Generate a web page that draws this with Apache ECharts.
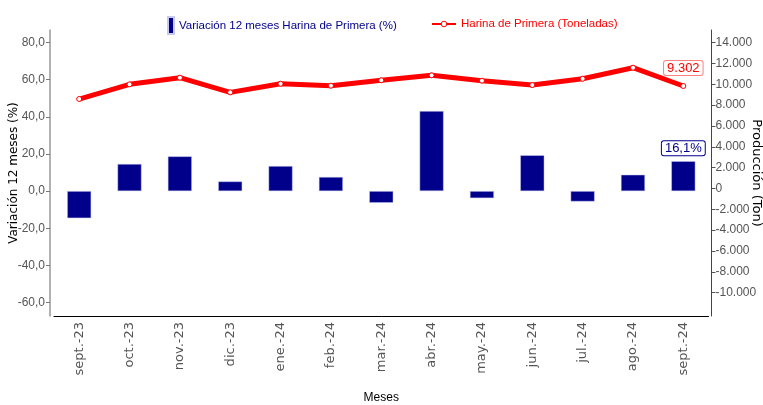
<!DOCTYPE html>
<html>
<head>
<meta charset="utf-8">
<script src="https://cdn.jsdelivr.net/npm/echarts@6/dist/echarts.min.js"></script>
<style>
  html, body { margin: 0; padding: 0; background: #fff; }
  #chart { width: 763px; height: 405px; }
</style>
</head>
<body>
<div id="chart"></div>
<script>
  const months = ['sept.-23', 'oct.-23', 'nov.-23', 'dic.-23', 'ene.-24', 'feb.-24', 'mar.-24',
    'abr.-24', 'may.-24', 'jun.-24', 'jul.-24', 'ago.-24', 'sept.-24'];
  // variacion 12 meses (%)
  const variacion = [-14.6, 14.6, 18.7, 5.2, 13.5, 7.6, -6.3, 43.1, -3.8, 19.3, -5.6, 8.8, 16.1];
  // produccion (toneladas)
  const produccion = [8590, 10000, 10640, 9230, 10060, 9870, 10390, 10870, 10350, 9930, 10540, 11600, 9840];
  const lastTonLabel = 9302;
  const leftTicks = [-60, -40, -20, 0, 20, 40, 60, 80];
  const rightTicks = [-10000, -8000, -6000, -4000, -2000, 0, 2000, 4000, 6000, 8000, 10000, 12000, 14000];

  const narrow = "'Liberation Sans', Arial, sans-serif";
  const navy = '#00008B';
  const red = '#FF0000';

  const fmtPct = v => v.toFixed(1).replace('.', ',');
  const fmtTon = v => {
    const s = Math.abs(v).toString().replace(/\B(?=(\d{3})+(?!\d))/g, '.');
    return (v < 0 ? '-' : '') + s;
  };

  const chart = echarts.init(document.getElementById('chart'));
  chart.setOption({
    animation: false,
    legend: [{
      left: 162,
      top: 11,
      itemWidth: 6,
      itemHeight: 17,
      icon: 'rect',
      data: ['Variación 12 meses Harina de Primera (%)'],
      textStyle: { color: navy, fontFamily: narrow, fontSize: 11.5 }
    }, {
      left: 426,
      top: 13,
      itemWidth: 24,
      itemHeight: 7,
      data: ['Harina de Primera (Toneladas)'],
      lineStyle: { width: 2 },
      itemStyle: { borderWidth: 1 },
      textStyle: { color: red, fontFamily: narrow, fontSize: 11.5 }
    }],
    grid: {
      left: 54,
      right: 54.5,
      top: 30,
      bottom: 89,
      outerBoundsMode: 'none'
    },
    xAxis: {
      type: 'category',
      data: months,
      name: 'Meses',
      nameLocation: 'middle',
      nameGap: 76,
      nameMoveOverlap: false,
      nameTextStyle: { color: '#000', fontFamily: narrow, fontSize: 12 },
      axisLine: { onZero: false, lineStyle: { color: '#000', width: 1 } },
      axisTick: { alignWithLabel: true, length: 4, lineStyle: { color: '#555' } },
      axisLabel: {
        rotate: 90,
        margin: 6,
        color: '#555',
        fontFamily: 'DejaVu Sans',
        fontSize: 13
      }
    },
    yAxis: [{
      type: 'value',
      min: -67.3,
      max: 86.8,
      offset: 4,
      name: 'Variación 12 meses (%)',
      nameLocation: 'middle',
      nameGap: 30,
      nameMoveOverlap: false,
      nameTextStyle: { color: '#000', fontFamily: 'DejaVu Sans', fontSize: 12 },
      splitLine: { show: false },
      axisLine: { show: true, lineStyle: { color: '#999', width: 1.5 } },
      axisTick: { show: true, length: 4, customValues: leftTicks, lineStyle: { color: '#777' } },
      axisLabel: {
        customValues: leftTicks,
        formatter: v => fmtPct(v),
        margin: 5,
        color: '#555',
        fontFamily: narrow,
        fontSize: 12
      }
    }, {
      type: 'value',
      min: -12250,
      max: 15220,
      offset: 3,
      position: 'right',
      name: 'Producción (Ton)',
      nameLocation: 'middle',
      nameRotate: -90,
      nameGap: 38,
      nameMoveOverlap: false,
      nameTextStyle: { color: '#000', fontFamily: 'DejaVu Sans', fontSize: 13 },
      splitLine: { show: false },
      axisLine: { show: true, lineStyle: { color: '#444', width: 1 } },
      axisTick: { show: true, length: 4, customValues: rightTicks, lineStyle: { color: '#555' } },
      axisLabel: {
        customValues: rightTicks,
        formatter: v => fmtTon(v),
        margin: 4,
        color: '#555',
        fontFamily: narrow,
        fontSize: 12
      }
    }],
    series: [{
      name: 'Variación 12 meses Harina de Primera (%)',
      type: 'bar',
      yAxisIndex: 0,
      barWidth: 24,
      itemStyle: { color: navy, borderColor: '#c8c8f0', borderWidth: 0.5 },
      data: variacion.map((v, i) => i === variacion.length - 1 ? {
        value: v,
        label: {
          show: true,
          position: 'top',
          distance: 6,
          formatter: p => fmtPct(p.value) + '%',
          color: navy,
          fontFamily: narrow,
          fontSize: 13,
          backgroundColor: '#fff',
          borderColor: navy,
          borderWidth: 1,
          borderRadius: 2,
          padding: [1, 3, 0, 3]
        }
      } : v)
    }, {
      name: 'Harina de Primera (Toneladas)',
      type: 'line',
      yAxisIndex: 1,
      symbol: 'circle',
      symbolSize: 5,
      lineStyle: { color: red, width: 5 },
      itemStyle: { color: '#fff', borderColor: red, borderWidth: 1 },
      z: 3,
      data: produccion.map((v, i) => i === produccion.length - 1 ? {
        value: v,
        label: {
          show: true,
          position: 'top',
          distance: 8,
          formatter: () => fmtTon(lastTonLabel),
          color: red,
          fontFamily: narrow,
          fontSize: 13,
          backgroundColor: '#fff',
          borderColor: '#ff8080',
          borderWidth: 1,
          borderRadius: 2,
          padding: [1, 3, 0, 3]
        }
      } : v)
    }]
  });
</script>
</body>
</html>
